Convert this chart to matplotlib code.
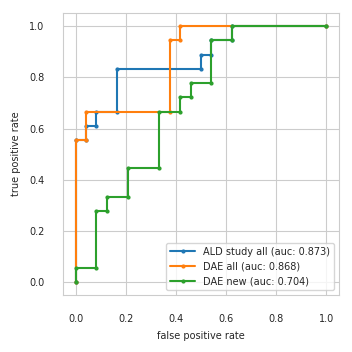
import numpy as np
import matplotlib
matplotlib.use("Agg")
import matplotlib.pyplot as plt
import seaborn as sns

sns.set_style("whitegrid")
plt.rcParams["font.size"] = 7

# ROC curves: 24 negatives, 18 positives
ald_fpr = np.array([0, 0, 1, 1, 2, 2, 4, 4, 12, 12, 13, 13, 15, 15, 24]) / 24
ald_tpr = np.array([0, 10, 10, 11, 11, 12, 12, 15, 15, 16, 16, 17, 17, 18, 18]) / 18

dae_all_fpr = np.array([0, 0, 1, 1, 9, 9, 10, 10, 24]) / 24
dae_all_tpr = np.array([0, 10, 10, 12, 12, 17, 17, 18, 18]) / 18

dae_new_fpr = np.array([0, 0, 2, 2, 3, 3, 5, 5, 8, 8, 10, 10, 11, 11, 13, 13, 15, 15, 24]) / 24
dae_new_tpr = np.array([0, 1, 1, 5, 5, 6, 6, 8, 8, 12, 12, 13, 13, 14, 14, 17, 17, 18, 18]) / 18

labels = ["ALD study all (auc: 0.873)", "DAE all (auc: 0.868)", "DAE new (auc: 0.704)"]

fig, ax = plt.subplots(figsize=(3.52, 3.52), dpi=100)
for fpr, tpr, lab in zip([ald_fpr, dae_all_fpr, dae_new_fpr],
                         [ald_tpr, dae_all_tpr, dae_new_tpr], labels):
    ax.plot(fpr, tpr, marker=".", markersize=4, linewidth=1.5, label=lab)

ax.set_xlabel("false positive rate", labelpad=5)
ax.set_ylabel("true positive rate", labelpad=6)
ax.tick_params(labelsize=7, pad=10)
ax.legend(loc="lower right", fontsize=7, handlelength=2.6)
fig.subplots_adjust(left=0.179, right=0.963, bottom=0.162, top=0.962)
fig.savefig("out.png")
